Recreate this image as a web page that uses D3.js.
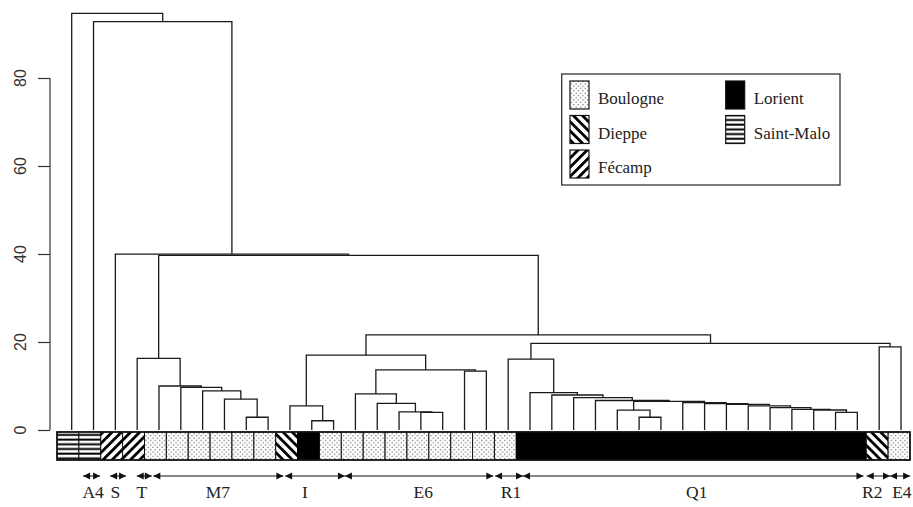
<!DOCTYPE html>
<html>
<head>
<meta charset="utf-8">
<script src="https://cdn.jsdelivr.net/npm/d3@7"></script>
<style>
body { margin: 0; background: #fff; }
svg { display: block; }
.serif { font-family: "Liberation Serif", "DejaVu Serif", serif; fill: #222; }
.sans { font-family: "Liberation Sans", Arial, sans-serif; fill: #333; }
</style>
</head>
<body>
<svg id="chart" width="913" height="507"></svg>
<script>
/* port of each leaf, in plotting order */
var leafPort = [
    "Saint-Malo", "Saint-Malo", "Fécamp", "Fécamp",
    "Boulogne", "Boulogne", "Boulogne", "Boulogne", "Boulogne", "Boulogne",
    "Dieppe", "Lorient", "Boulogne",
    "Boulogne", "Boulogne", "Boulogne", "Boulogne", "Boulogne", "Boulogne", "Boulogne",
    "Boulogne",
    "Lorient", "Lorient", "Lorient", "Lorient", "Lorient", "Lorient", "Lorient", "Lorient",
    "Lorient", "Lorient", "Lorient", "Lorient", "Lorient", "Lorient", "Lorient", "Lorient",
    "Dieppe", "Boulogne"
];

/* hclust style merge table: negative = leaf, positive = earlier merge row */
var mergeA = [-9, -8, -7, -6, -5, -4, -12, -11, -17, -16, -15, -14, -19, 12, 8,
              -27, -26, -36, -35, -34, -33, -32, -31, -30, -29, 17, -25, -24, -23, -22,
              -21, -38, 31, 15, 6, -3, -2, -1];
var mergeB = [-10, 1, 2, 3, 4, 5, -13, 7, -18, 9, 10, 11, -20, 13, 14,
              -28, 16, -37, 18, 19, 20, 21, 22, 23, 24, 25, 26, 27, 28, 29,
              30, -39, 32, 33, 34, 35, 36, 37];
var mergeHeight = [2.9, 7.0, 8.9, 9.7, 10.0, 16.3, 2.1, 5.5, 4.0, 4.1, 6.05, 8.2, 13.4, 13.65, 17.0,
                   2.9, 4.5, 4.0, 4.55, 4.7, 5.07, 5.5, 5.84, 6.0, 6.2, 6.5, 6.7, 7.35, 7.95, 8.5,
                   16.1, 18.9, 19.7, 21.6, 39.7, 39.95, 92.8, 94.7];

/* group annotations under the strip, in leaf units */
var groupName = ["A4", "S", "T", "M7", "I", "E6", "R1", "Q1", "R2", "E4"];
var groupFrom = [0.52, 1.76, 2.98, 3.74, 9.78, 12.52, 19.40, 20.68, 36.43, 37.50];
var groupTo   = [1.30, 2.49, 3.67, 9.70, 12.52, 19.32, 20.68, 36.28, 37.50, 38.42];
var groupLabelAt = [0.98, 2.0, 3.22, 6.70, 10.69, 16.11, 20.13, 28.64, 36.68, 38.04];

var yTicks = [0, 20, 40, 60, 80];
var legendPorts = ["Boulogne", "Dieppe", "Fécamp", "Lorient", "Saint-Malo"];

var patternOf = {
    "Boulogne": "url(#dots)",
    "Dieppe": "url(#back)",
    "Fécamp": "url(#fwd)",
    "Lorient": "#000",
    "Saint-Malo": "url(#hlines)"
};

var svg = d3.select("#chart");

var x = d3.scaleLinear().domain([0, leafPort.length - 1]).range([71.7, 901]);
var y = d3.scaleLinear().domain([0, 80]).range([430, 78]);
var band = d3.scaleBand().domain(d3.range(leafPort.length)).range([57, 910]);

/* fill patterns */
var defs = svg.append("defs");
var dots = defs.append("pattern").attr("id", "dots").attr("patternUnits", "userSpaceOnUse")
    .attr("width", 4.6).attr("height", 4.6);
dots.append("rect").attr("width", 4.6).attr("height", 4.6).attr("fill", "#fff");
dots.append("circle").attr("cx", 1.1).attr("cy", 1.1).attr("r", 0.6).attr("fill", "#333");
dots.append("circle").attr("cx", 3.4).attr("cy", 3.4).attr("r", 0.6).attr("fill", "#333");

function stripes(id, angle) {
    var p = defs.append("pattern").attr("id", id).attr("patternUnits", "userSpaceOnUse")
        .attr("width", 6.5).attr("height", 6.5)
        .attr("patternTransform", "rotate(" + angle + ")");
    p.append("rect").attr("width", 6.5).attr("height", 6.5).attr("fill", "#fff");
    p.append("rect").attr("width", 6.5).attr("height", 2.8).attr("fill", "#000");
}
stripes("back", 45);
stripes("fwd", -45);

var hl = defs.append("pattern").attr("id", "hlines").attr("patternUnits", "userSpaceOnUse")
    .attr("width", 6).attr("height", 4.7);
hl.append("rect").attr("width", 6).attr("height", 4.7).attr("fill", "#fff");
hl.append("rect").attr("y", 1.5).attr("width", 6).attr("height", 2).attr("fill", "#000");

/* y axis */
var axis = svg.append("g").attr("transform", "translate(50,0)")
    .call(d3.axisLeft(y).tickValues(yTicks).tickSize(12).tickFormat(""));
axis.select(".domain").remove();
axis.selectAll("line").attr("stroke", "#333").attr("stroke-width", 1.2);
axis.append("line").attr("y1", y(0)).attr("y2", y(80))
    .attr("stroke", "#333").attr("stroke-width", 1.2);
svg.selectAll("text.ylab").data(yTicks).enter().append("text")
    .attr("class", "sans")
    .attr("transform", function (d) { return "translate(26," + y(d) + ") rotate(-90)"; })
    .attr("text-anchor", "middle")
    .style("font-size", "16px")
    .text(function (d) { return d; });

/* dendrogram */
var nodeX = [], nodeH = [];
function childPos(c) {
    if (c < 0) return [x(-c - 1), 0];
    return [nodeX[c - 1], nodeH[c - 1]];
}
var branchPaths = [];
mergeA.forEach(function (a, i) {
    var pa = childPos(a), pb = childPos(mergeB[i]);
    nodeX[i] = (pa[0] + pb[0]) / 2;
    nodeH[i] = mergeHeight[i];
    branchPaths.push("M" + pa[0] + "," + y(pa[1]) + "V" + y(mergeHeight[i]) +
        "H" + pb[0] + "V" + y(pb[1]));
});
svg.append("g").selectAll("path").data(branchPaths).enter().append("path")
    .attr("d", function (d) { return d; })
    .attr("fill", "none").attr("stroke", "#1a1a1a").attr("stroke-width", 1.3);

/* port strip */
svg.append("g").selectAll("rect").data(leafPort).enter().append("rect")
    .attr("x", function (d, i) { return band(i); })
    .attr("y", 432).attr("width", band.bandwidth()).attr("height", 28)
    .attr("fill", function (d) { return patternOf[d]; })
    .attr("stroke", function (d) { return d == "Lorient" ? "#000" : "#111"; })
    .attr("stroke-width", 1);
svg.append("rect").attr("x", 57).attr("y", 432).attr("width", 853).attr("height", 28)
    .attr("fill", "none").attr("stroke", "#111").attr("stroke-width", 1.6);

/* group arrows */
var ag = svg.append("g");
var ay = 476;
groupName.forEach(function (g, i) {
    var x0 = x(groupFrom[i]), x1 = x(groupTo[i]);
    ag.append("line").attr("x1", x0).attr("x2", x1).attr("y1", ay).attr("y2", ay)
        .attr("stroke", "#111").attr("stroke-width", 1);
    ag.append("path").attr("d", "M" + x0 + "," + ay + "l7,-3.5v7z").attr("fill", "#111");
    ag.append("path").attr("d", "M" + x1 + "," + ay + "l-7,-3.5v7z").attr("fill", "#111");
    ag.append("text").attr("class", "serif").attr("x", x(groupLabelAt[i])).attr("y", 498)
        .attr("text-anchor", "middle").style("font-size", "17.5px").text(g);
});

/* legend */
var lg = svg.append("g");
lg.append("rect").attr("x", 561.7).attr("y", 74).attr("width", 278.3).attr("height", 111)
    .attr("fill", "#fff").attr("stroke", "#333").attr("stroke-width", 1.3);
legendPorts.forEach(function (p, i) {
    var col = i < 3 ? 0 : 1, row = i < 3 ? i : i - 3;
    var sx = 570 + col * 155.7, sy = 81 + row * 34.5;
    lg.append("rect").attr("x", sx).attr("y", sy).attr("width", 19).attr("height", 28)
        .attr("fill", patternOf[p]).attr("stroke", "#111").attr("stroke-width", 1.2);
    lg.append("text").attr("class", "serif").attr("x", sx + 28).attr("y", sy + 23)
        .style("font-size", "17px").text(p);
});
</script>
</body>
</html>
